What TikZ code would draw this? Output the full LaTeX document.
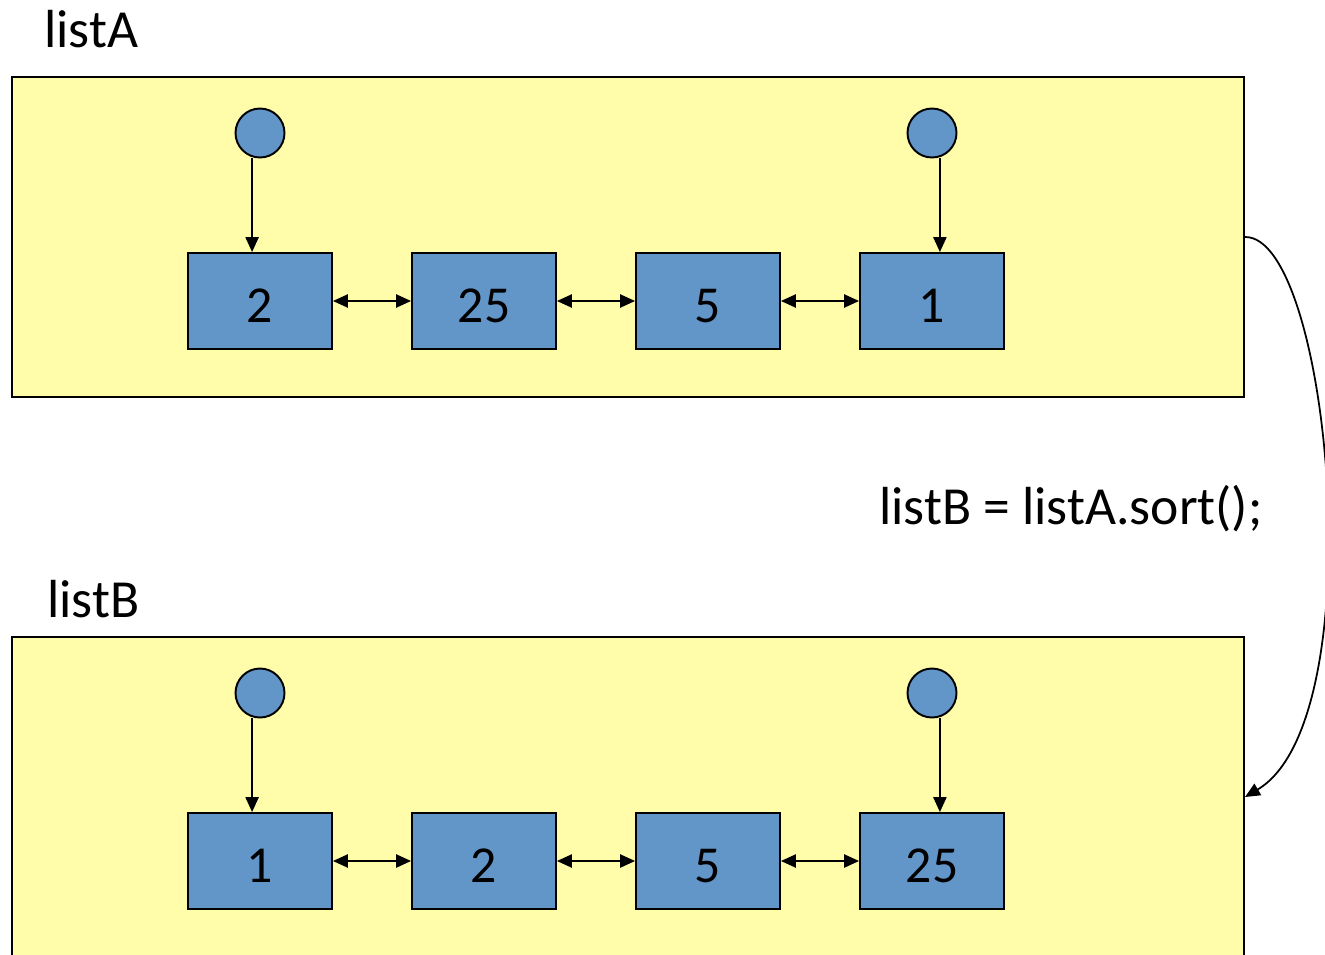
\documentclass[tikz,border=0pt]{standalone}
\usepackage{fontspec}
\setmainfont{Carlito}
\usetikzlibrary{arrows.meta}
\definecolor{boxyellow}{RGB}{255,252,170}
\definecolor{cellblue}{RGB}{98,150,200}
\begin{document}
\begin{tikzpicture}[x=0.02cm,y=-0.02cm,
  container/.style={draw=black,line width=1.1pt,fill=boxyellow,inner sep=0pt,minimum width=24.64cm},
  cell/.style={draw=black,line width=1.1pt,fill=cellblue,inner sep=0pt,minimum width=2.88cm,minimum height=1.92cm,
    font=\fontsize{29.5}{34}\selectfont,text height=24.3pt,text depth=0pt},
  ptr/.style={circle,draw=black,line width=1.1pt,fill=cellblue,inner sep=0pt,minimum size=0.98cm},
  lbl/.style={font=\fontsize{30.5}{36}\selectfont,inner sep=0pt,anchor=base west},
  tip/.tip={Triangle[length=8.5pt,width=7.5pt]},
  arr/.style={line width=1pt,-tip},
  darr/.style={line width=1pt,tip-tip}]
\useasboundingbox (0,0) rectangle (1325,954);
% containers
\node[container,minimum height=6.4cm] (contA) at (628,237) {};
\node[container,minimum height=7.6cm] (contB) at (628,827) {};
% labels
\node[lbl] (labA) at (44,47) {listA};
\node[lbl] (labB) at (47,617) {listB};
\node[lbl,anchor=base east] (code) at (1263,524) {listB = listA.sort();};
% list A
\node[cell] (a1) at (260,301) {2};
\node[cell] (a2) at (484,301) {25};
\node[cell] (a3) at (708,301) {5};
\node[cell] (a4) at (932,301) {1};
\node[ptr] (pa1) at (260,133) {};
\node[ptr] (pa2) at (932,133) {};
% list B
\node[cell] (b1) at (260,861) {1};
\node[cell] (b2) at (484,861) {2};
\node[cell] (b3) at (708,861) {5};
\node[cell] (b4) at (932,861) {25};
\node[ptr] (pb1) at (260,693) {};
\node[ptr] (pb2) at (932,693) {};
% links
\foreach \l in {a,b}{
  \draw[darr] (\l1.east) -- (\l2.west);
  \draw[darr] (\l2.east) -- (\l3.west);
  \draw[darr] (\l3.east) -- (\l4.west);
}
\draw[arr] ([xshift=-4.5pt]pa1.south) -- ([xshift=-4.5pt]pa1.south |- a1.north);
\draw[arr] ([xshift=4.5pt]pa2.south) -- ([xshift=4.5pt]pa2.south |- a4.north);
\draw[arr] ([xshift=-4.5pt]pb1.south) -- ([xshift=-4.5pt]pb1.south |- b1.north);
\draw[arr] ([xshift=4.5pt]pb2.south) -- ([xshift=4.5pt]pb2.south |- b4.north);
% sort arrow
\coordinate (endB) at (1245,797);
\draw[arr] (contA.east) .. controls (1330,235) and (1375,720) .. (endB);
\end{tikzpicture}
\end{document}
